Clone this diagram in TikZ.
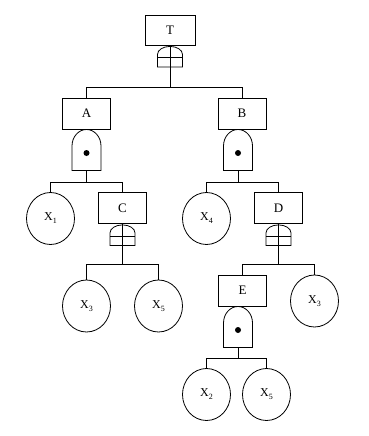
\documentclass[tikz,border=0pt]{standalone}
\usepackage{fontspec}
\setmainfont{Liberation Serif}
\usetikzlibrary{shapes.geometric}
\newcommand\xsub[1]{X\kern0.2pt\raisebox{-3pt}{\fontsize{8}{8}\selectfont #1}}
\tikzset{
  orgate/.pic={
    \draw (-12.5,9) arc[x radius=12.5, y radius=8, start angle=180, end angle=360]
          -- (12.5,21.5) -- (-12.5,21.5) -- cycle;
    \draw (-12.5,12.5) -- (12.5,12.5);
  },
  andgate/.pic={
    \draw (-14.5,41.5) -- (-14.5,17) arc[x radius=14.5, y radius=16.5, start angle=180, end angle=360]
          -- (14.5,41.5) -- cycle;
    \fill (0,24) circle[radius=3];
  },
}
\begin{document}
\begin{tikzpicture}[x=1pt,y=-1pt, line width=0.8pt,
  evt/.style={draw, rectangle, minimum width=48pt, minimum height=31pt, inner sep=0pt,
              font=\fontsize{13}{15}\selectfont},
  basic/.style={draw, ellipse, minimum width=48pt, minimum height=52pt, inner sep=0pt,
              font=\fontsize{12}{13}\selectfont}]
\useasboundingbox (0,0) rectangle (368,436);
\fill[white] (0,0) rectangle (368,436);

% events
\node[evt, minimum width=50pt, minimum height=30pt] (T) at (170,30) {T};
\node[evt] (A) at (86.5,113.5) {A};
\node[evt] (B) at (242,113.5) {B};
\node[evt] (C) at (122.5,208) {C};
\node[evt] (D) at (278.5,208) {D};
\node[evt] (E) at (242.5,290.5) {E};

% basic events
\node[basic] (X1) at (50.5,218.5) {\raisebox{2pt}{\xsub{1}}};
\node[basic] (X4) at (206.5,218.5) {\raisebox{2pt}{\xsub{4}}};
\node[basic] (X3a) at (86.5,306) {\raisebox{2pt}{\xsub{3}}};
\node[basic] (X5a) at (158.5,306) {\raisebox{2pt}{\xsub{5}}};
\node[basic] (X3b) at (314.5,301) {\raisebox{2pt}{\xsub{3}}};
\node[basic] (X2) at (206.5,394.5) {\raisebox{2pt}{\xsub{2}}};
\node[basic] (X5b) at (266.5,394.5) {\raisebox{2pt}{\xsub{5}}};

% bus levels and gate outputs
\coordinate (busT) at (0,87.5);
\coordinate (busA) at (0,182);
\coordinate (busB) at (0,182);
\coordinate (busC) at (0,264.5);
\coordinate (busD) at (0,264.5);
\coordinate (busE) at (0,358.5);
\coordinate (gA) at (86.5,170.5);
\coordinate (gB) at (238,170.5);
\coordinate (gE) at (238,347.5);

% gates
\pic at (T.south) {orgate};
\pic at (C.south) {orgate};
\pic at (D.south) {orgate};
\pic at (86.5,129) {andgate};
\pic at (238,129) {andgate};
\pic at (238,306) {andgate};

% connectors
\draw (T) -- (T |- busT);
\draw (A) -- (A |- busT) -- (B |- busT) -- (B);

\draw (gA) -- (gA |- busA);
\draw (X1) -- (X1 |- busA) -- (C |- busA) -- (C);

\draw (gB) -- (gB |- busB);
\draw (X4) -- (X4 |- busB) -- (D |- busB) -- (D);

\draw (C) -- (C |- busC);
\draw (X3a) -- (X3a |- busC) -- (X5a |- busC) -- (X5a);

\draw (D) -- (D |- busD);
\draw (E) -- (E |- busD) -- (X3b |- busD) -- (X3b);

\draw (gE) -- (gE |- busE);
\draw (X2) -- (X2 |- busE) -- (X5b |- busE) -- (X5b);
\end{tikzpicture}
\end{document}
